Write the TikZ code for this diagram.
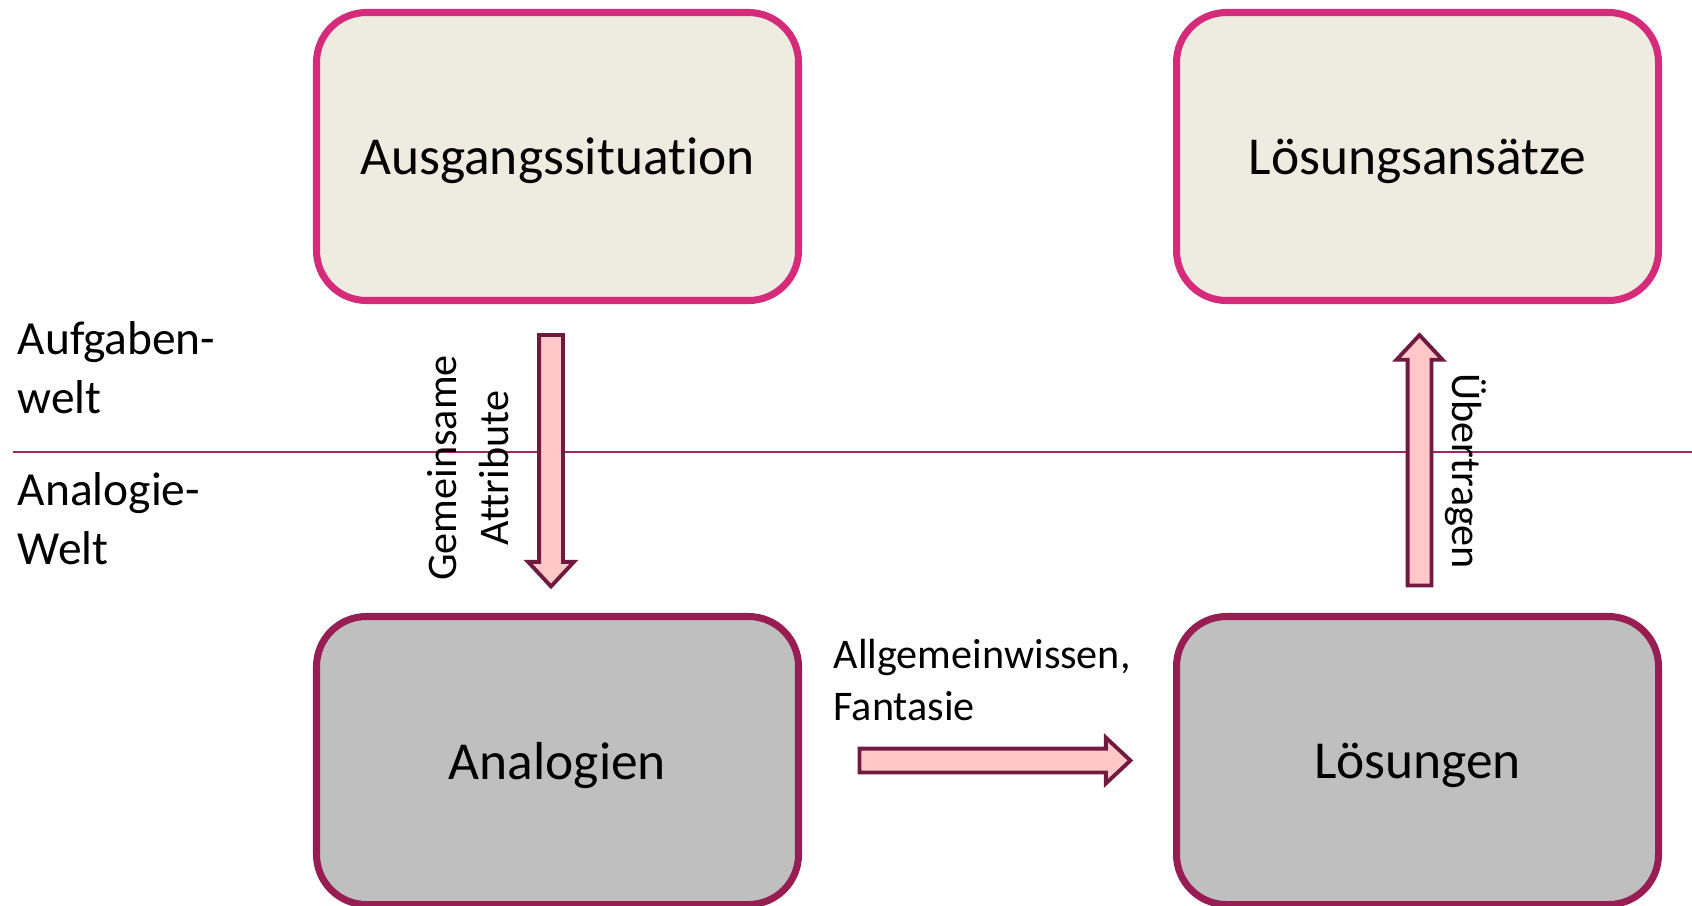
\documentclass[tikz,border=0pt]{standalone}
\usepackage{fontspec}
\setmainfont{Carlito}[Ligatures=NoCommon]
\usetikzlibrary{shapes.arrows,calc}
\definecolor{rahmenOben}{HTML}{D62A7A}
\definecolor{fuellOben}{HTML}{EEEBE0}
\definecolor{rahmenUnten}{HTML}{981D52}
\definecolor{fuellUnten}{HTML}{BFBFBF}
\definecolor{pfeilFuell}{HTML}{FFC8C8}
\definecolor{pfeilRand}{HTML}{701A40}
\definecolor{trennLinie}{HTML}{A0285F}
\newcommand{\blockpfeil}[3]{
  \path let \p1 = ($(#2)-(#1)$), \n1 = {veclen(\x1,\y1)} in
    node[Pfeil, minimum height=\n1, rotate=#3, anchor=tail] at (#1) {};
}
\tikzset{
  Welt/.style     = {rounded corners=0.5cm, line width=2pt,
                     minimum width=4.82cm, minimum height=2.88cm,
                     text depth=0pt,
                     font=\fontsize{15.2}{18}\selectfont},
  Aufgabe/.style  = {Welt, draw=rahmenOben, fill=fuellOben},
  Analogie/.style = {Welt, draw=rahmenUnten, fill=fuellUnten},
  Pfeil/.style    = {single arrow, draw=pfeilRand, fill=pfeilFuell,
                     line width=1.1pt, inner xsep=0pt, inner ysep=0.1cm,
                     minimum width=0.44cm, single arrow head extend=0.11cm,
                     single arrow tip angle=86},
  Notiz/.style    = {inner sep=0pt, align=left,
                     font=\fontsize{12}{14.6}\selectfont},
  Seite/.style    = {inner sep=0pt, align=left, anchor=west,
                     font=\fontsize{13.5}{16.8}\selectfont}
}

\begin{document}
\begin{tikzpicture}
	\useasboundingbox (0,0) rectangle (16.92,9.05);
	\node[Aufgabe]  (AS) at (5.575,7.485) {Ausgangssituation};
	\node[Aufgabe]  (LA) at (14.175,7.485) {Lösungsansätze};
	\node[Analogie] (AN) at (5.575,1.445) {Analogien};
	\node[Analogie] (LO) at (14.175,1.445) {Lösungen};
	\coordinate (links) at (0.13,4.53);
	\coordinate (rechts) at (16.92,4.53);
	\draw[trennLinie, line width=0.6pt] (links) -- (rechts);
	\node[Seite] (AW) at (0.17,5.37) {Aufgaben-\\welt};
	\node[Seite] (NW) at (0.17,3.86) {Analogie-\\Welt};
	\coordinate (g1) at ($(AS.south)+(-0.065,-0.29)$);
	\coordinate (g2) at ($(AN.north)+(-0.065,0.285)$);
	\coordinate (f1) at ($(AN.east)+(0.555,0)$);
	\coordinate (f2) at ($(LO.west)+(-0.445,0)$);
	\coordinate (u1) at ($(LO.north)+(0.02,0.255)$);
	\coordinate (u2) at ($(LA.south)+(0.02,-0.33)$);
	\blockpfeil{g1}{g2}{-90}
	\blockpfeil{f1}{f2}{0}
	\blockpfeil{u1}{u2}{90}
	\node[Notiz, rotate=90, align=center] (GA) at (4.68,4.37) {Gemeinsame\\Attribute};
	\node[Notiz, rotate=-90] (UE) at (14.66,4.34) {Übertragen};
	\node[Notiz, anchor=west] (AF) at (8.33,2.25) {Allgemeinwissen,\\Fantasie};
\end{tikzpicture}
\end{document}
